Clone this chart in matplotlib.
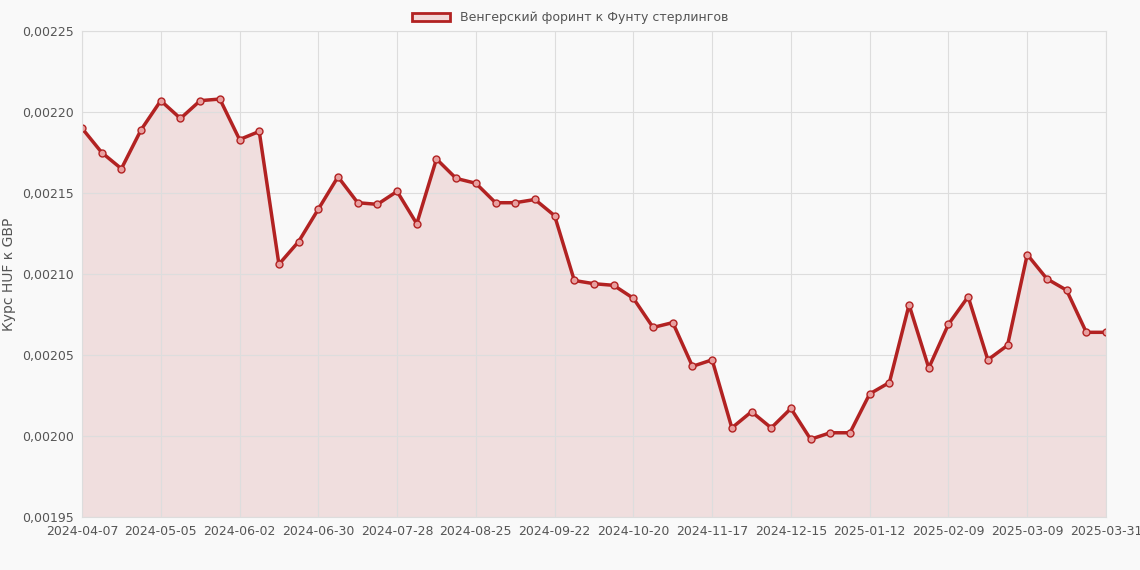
import matplotlib
matplotlib.use("Agg")
import matplotlib.pyplot as plt
import matplotlib.ticker as mt
import pandas as pd

dates = [d.strftime("%Y-%m-%d") for d in pd.date_range("2024-04-07", periods=52, freq="7D")] + ["2025-03-31"]
values = [0.002190,0.002175,0.002165,0.002189,0.002207,0.002196,0.002207,0.002208,0.002183,0.002188,
          0.002106,0.002120,0.002140,0.002160,0.002144,0.002143,0.002151,0.002131,0.002171,0.002159,
          0.002156,0.002144,0.002144,0.002146,0.002136,0.002096,0.002094,0.002093,0.002085,0.002067,
          0.002070,0.002043,0.002047,0.002005,0.002015,0.002005,0.002017,0.001998,0.002002,0.002002,
          0.002026,0.002033,0.002081,0.002042,0.002069,0.002086,0.002047,0.002056,0.002112,0.002097,
          0.002090,0.002064,0.002064]
label = "Венгерский форинт к Фунту стерлингов"
tick_idx = list(range(0, 49, 4)) + [52]

plt.rcParams['font.family'] = ['DejaVu Sans']
fig = plt.figure(figsize=(11.4, 5.7), dpi=100, facecolor="#f9f9f9")
ax = fig.add_axes([82/1140, 1-517/570, (1106-82)/1140, (517-31)/570])
ax.set_facecolor("#f9f9f9")
x = list(range(len(values)))
ax.fill_between(x, values, 0.00195, color="#b22222", alpha=0.12, linewidth=0)
ax.plot(x, values, color="#b22222", lw=2.5, marker="o", ms=5, mfc="#e8a0a0", mec="#b22222", mew=1, label=label)
ax.set_xlim(0, 52)
ax.set_ylim(0.00195, 0.00225)
ax.yaxis.set_major_locator(mt.MultipleLocator(0.00005))
ax.yaxis.set_major_formatter(mt.FuncFormatter(lambda v, p: f"{v:.5f}".replace(".", ",")))
ax.set_xticks(tick_idx)
ax.set_xticklabels([dates[i] for i in tick_idx])
ax.grid(True, color="#dddddd", lw=0.8)
for s in ax.spines.values():
    s.set_color("#dddddd")
ax.tick_params(colors="#555555", labelsize=9, length=0, pad=6)
ax.set_ylabel("Курс HUF к GBP", color="#555555", fontsize=10)
leg = fig.legend(handles=[plt.Rectangle((0,0),1,1, fc="#f2d9d9", ec="#b22222", lw=2)], labels=[label],
                 loc="upper center", bbox_to_anchor=(0.5, 1.0), frameon=False, fontsize=9, handlelength=3)
for t in leg.get_texts():
    t.set_color("#555555")
fig.savefig("out.png", dpi=100, facecolor=fig.get_facecolor())
